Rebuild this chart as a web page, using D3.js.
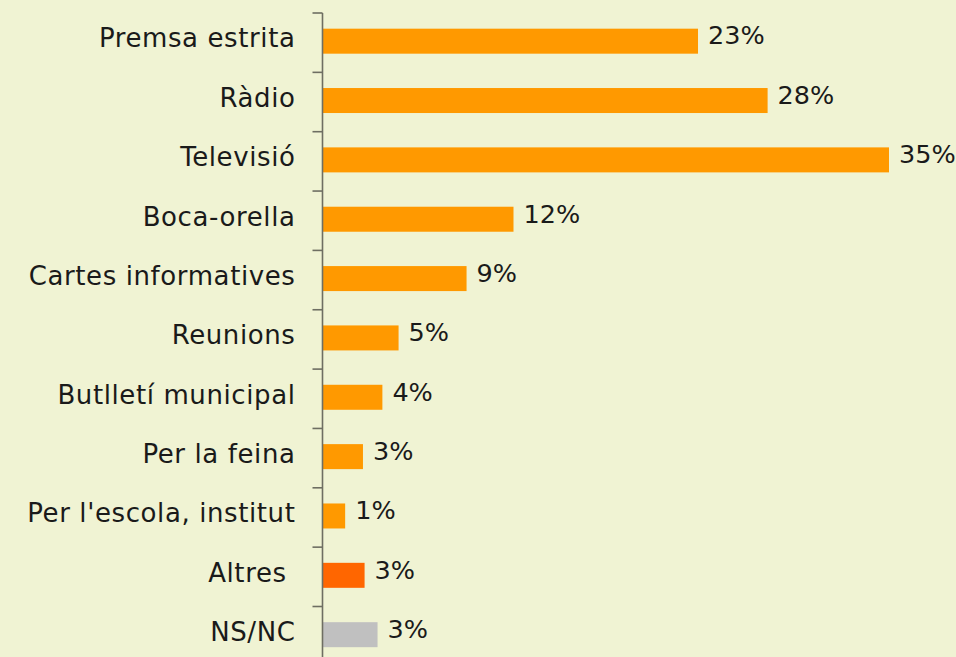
<!DOCTYPE html>
<html>
<head>
<meta charset="utf-8">
<script src="https://cdn.jsdelivr.net/npm/d3@7"></script>
<style>
  html, body { margin: 0; padding: 0; background: #f0f3d3; }
  svg { display: block; }
</style>
</head>
<body>
<div id="chart"></div>
<script>
// categories, top to bottom
const categories = [
	'Premsa estrita',
	'Ràdio',
	'Televisió',
	'Boca-orella',
	'Cartes informatives',
	'Reunions',
	'Butlletí municipal',
	'Per la feina',
	"Per l'escola, institut",
	'Altres ',
	'NS/NC',
];
// bar lengths (%)
const values = [ 23.2, 27.5, 35.0, 11.8, 8.9, 4.7, 3.7, 2.5, 1.4, 2.6, 3.4 ];
// labels as printed on the chart
const valueLabels = [ '23%', '28%', '35%', '12%', '9%', '5%', '4%', '3%', '1%', '3%', '3%' ];
const barColors = [ '#ff9900', '#ff9900', '#ff9900', '#ff9900', '#ff9900', '#ff9900',
	'#ff9900', '#ff9900', '#ff9900', '#ff6600', '#c0c0c0' ];

const width = 956;
const height = 657;
const axisX = 322.5;
const barH = 25;
const font = '"DejaVu Sans", sans-serif';

const svg = d3.select( '#chart' )
	.append( 'svg' )
	.attr( 'width', width )
	.attr( 'height', height );

svg.append( 'rect' )
	.attr( 'width', width )
	.attr( 'height', height )
	.attr( 'fill', '#f0f3d3' );

const x = d3.scaleLinear()
	.domain( [ 0, 35 ] )
	.range( [ axisX, 889 ] );

const y = d3.scaleBand()
	.domain( categories )
	.range( [ 13, 13 + 11 * 59.35 ] )
	.padding( 0 );

const rows = categories.map( ( c, i ) => ( {
	cat: c, value: values[ i ], label: valueLabels[ i ], color: barColors[ i ],
} ) );

// bars
svg.append( 'g' )
	.selectAll( 'rect' )
	.data( rows )
	.join( 'rect' )
	.attr( 'x', x( 0 ) )
	.attr( 'y', ( d ) => y( d.cat ) + ( y.bandwidth() - barH ) / 2 - 1.5 )
	.attr( 'width', ( d ) => x( d.value ) - x( 0 ) )
	.attr( 'height', barH )
	.attr( 'fill', ( d ) => d.color );

// value labels
svg.append( 'g' )
	.selectAll( 'text' )
	.data( rows )
	.join( 'text' )
	.attr( 'x', ( d ) => x( d.value ) + 10 )
	.attr( 'y', ( d ) => y( d.cat ) + y.bandwidth() / 2 + 1.8 )
	.attr( 'font-family', font )
	.attr( 'font-size', 25.5 )
	.attr( 'fill', '#1a1a1a' )
	.text( ( d ) => d.label );

// category axis: line + ticks at band edges
const axis = svg.append( 'g' );
axis.append( 'line' )
	.attr( 'x1', axisX ).attr( 'x2', axisX )
	.attr( 'y1', y.range()[ 0 ] ).attr( 'y2', height + 10 )
	.attr( 'stroke', '#6e6e62' )
	.attr( 'stroke-width', 1.6 );

axis.selectAll( '.tick' )
	.data( categories )
	.join( 'line' )
	.attr( 'class', 'tick' )
	.attr( 'x1', axisX - 10 ).attr( 'x2', axisX )
	.attr( 'y1', ( d ) => y( d ) )
	.attr( 'y2', ( d ) => y( d ) )
	.attr( 'stroke', '#6e6e62' )
	.attr( 'stroke-width', 1.6 );

axis.selectAll( '.cat' )
	.data( categories )
	.join( 'text' )
	.attr( 'class', 'cat' )
	.attr( 'x', axisX - 27 )
	.attr( 'y', ( d ) => y( d ) + y.bandwidth() / 2 + 4.8 )
	.attr( 'text-anchor', 'end' )
	.attr( 'font-family', font )
	.attr( 'font-size', 26 )
	.attr( 'letter-spacing', 0.6 )
	.attr( 'fill', '#1a1a1a' )
	.style( 'white-space', 'pre' )
	.text( ( d ) => d );
</script>
</body>
</html>
